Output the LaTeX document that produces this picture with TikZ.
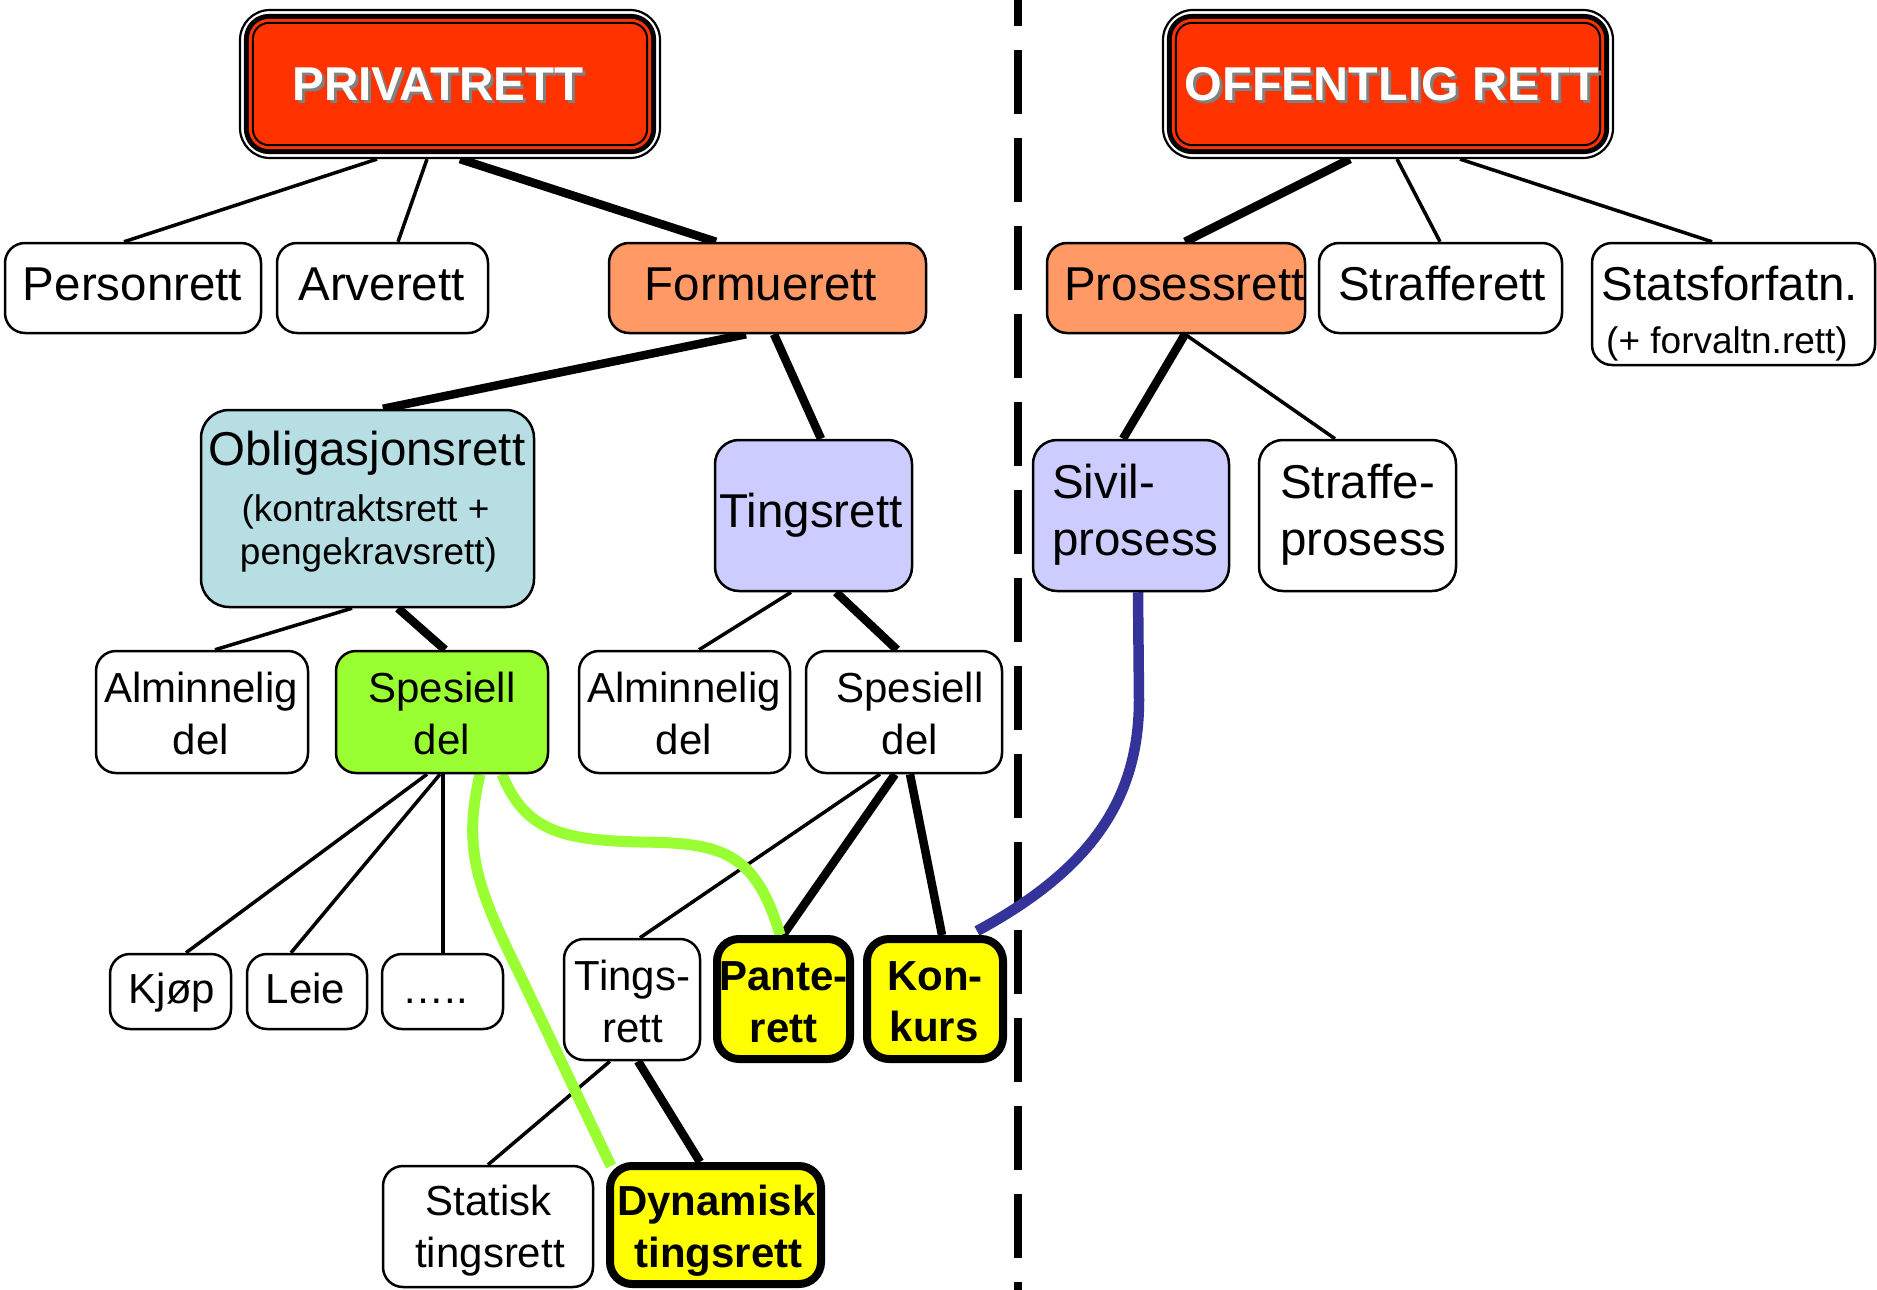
\documentclass[tikz,border=0pt]{standalone}
\usepackage{fontspec}
\setmainfont{Liberation Sans}
\usetikzlibrary{calc}
\pgfdeclarelayer{background}
\pgfsetlayers{background,main}
\definecolor{titlered}{HTML}{FF3300}
\definecolor{salmon}{HTML}{FF9966}
\definecolor{lblue}{HTML}{B7DEE2}
\definecolor{lav}{HTML}{CCCCFF}
\definecolor{lgreen}{HTML}{99FF33}
\definecolor{yel}{HTML}{FFFF00}
\definecolor{navy}{HTML}{333399}
\newcommand\fBig{\fontsize{47.5}{57}\selectfont}
\newcommand\fSmall{\fontsize{42}{50}\selectfont}
\newcommand\fSub{\fontsize{37}{44}\selectfont}
\newcommand\fTitle{\fontsize{47.5}{57}\selectfont\bfseries}
\begin{document}
\begin{tikzpicture}[x=1pt,y=-1pt,
  sz/.style 2 args={minimum width=#1pt, minimum height=#2pt},
  box/.style={draw=black, line width=2.5pt, rounded corners=20pt, inner sep=0pt, fill=white},
  bigbox/.style={box, rounded corners=28pt},
  ybox/.style={box, fill=yel, line width=8pt, rounded corners=22pt},
  frame/.style={draw=black, line width=2.2pt, fill=white, rounded corners=30pt, inner sep=0pt},
  ttl/.style={anchor=base, inner sep=0pt, font=\fTitle},
  lb/.style={anchor=base, inner sep=0pt, font=\fBig},
  lbw/.style={anchor=base west, inner sep=0pt, font=\fBig},
  ls/.style={anchor=base, inner sep=0pt, font=\fSmall},
  lsb/.style={anchor=base, inner sep=0pt, font=\fSmall\bfseries},
  lsub/.style={anchor=base, inner sep=0pt, font=\fSub},
  thin/.style={line width=3.5pt},
  thick/.style={line width=8.5pt},
  gline/.style={line width=11pt, draw=lgreen},
  bline/.style={line width=10.5pt, draw=navy}
]
\useasboundingbox (0,0) rectangle (1877,1290);

% ---------- title boxes ----------
\node[frame, sz={420}{148}] (priv) at (450,84) {};
\fill[black, rounded corners=25pt] ([shift={(5,5)}]priv.north west) rectangle ([shift={(-5,-5)}]priv.south east);
\fill[titlered, rounded corners=20pt] ([shift={(10,10)}]priv.north west) rectangle ([shift={(-10,-10)}]priv.south east);
\draw[black, line width=2pt, fill=titlered, rounded corners=16pt] ([shift={(14,14)}]priv.north west) rectangle ([shift={(-14,-14)}]priv.south east);
\coordinate (privtc) at (438,100);
\node[ttl, text=gray] (privsh) at ([shift={(3,3)}]privtc) {PRIVATRETT};
\node[ttl, text=white] (privt) at (privtc) {PRIVATRETT};

\node[frame, sz={450}{148}] (off) at (1388,84) {};
\fill[black, rounded corners=25pt] ([shift={(5,5)}]off.north west) rectangle ([shift={(-5,-5)}]off.south east);
\fill[titlered, rounded corners=20pt] ([shift={(10,10)}]off.north west) rectangle ([shift={(-10,-10)}]off.south east);
\draw[black, line width=2pt, fill=titlered, rounded corners=16pt] ([shift={(14,14)}]off.north west) rectangle ([shift={(-14,-14)}]off.south east);
\coordinate (offtc) at (1392,100);
\node[ttl, text=gray] (offsh) at ([shift={(3,3)}]offtc) {\scalebox{1.02}[1]{OFFENTLIG RETT}};
\node[ttl, text=white] (offt) at (offtc) {\scalebox{1.02}[1]{OFFENTLIG RETT}};

% ---------- boxes ----------
\node[box, sz={256}{90}] (pers) at (133,288) {};
\node[box, sz={211}{90}] (arv) at (382.5,288) {};
\node[box, fill=salmon, sz={317}{90}] (form) at (767.5,288) {};
\node[box, fill=salmon, sz={258}{90}] (pros) at (1176,288) {};
\node[box, sz={243}{90}] (straf) at (1440.5,288) {};
\node[box, sz={283}{122}] (stats) at (1733.5,304) {};

\node[bigbox, fill=lblue, sz={333}{197}] (oblig) at (367.5,508.5) {};
\node[box, rounded corners=24pt, fill=lav, sz={197}{151}] (ting) at (813.5,515.5) {};
\node[box, rounded corners=24pt, fill=lav, sz={196}{151}] (sivil) at (1131,515.5) {};
\node[box, rounded corners=24pt, sz={197}{151}] (straffe) at (1357.5,515.5) {};

\node[box, sz={212}{122}] (alm1) at (202,712) {};
\node[box, fill=lgreen, sz={212}{122}] (spes1) at (442,712) {};
\node[box, sz={211}{122}] (alm2) at (684.5,712) {};
\node[box, sz={196}{122}] (spes2) at (904,712) {};

\node[box, sz={121}{75}] (kjop) at (170.5,991.5) {};
\node[box, sz={120}{75}] (leie) at (307,991.5) {};
\node[box, sz={121}{75}] (dots) at (442.5,991.5) {};
\node[box, sz={136}{121}] (tings) at (632,999.5) {};
\node[ybox, sz={133}{120}] (pante) at (783.5,999) {};
\node[ybox, sz={136}{120}] (konk) at (935,999) {};

\node[box, sz={210}{121}] (stat) at (488,1226.5) {};
\node[ybox, sz={211}{118}] (dyn) at (715.5,1225) {};

% ---------- texts ----------
\node[lb] (tpers) at (132.5,300) {Personrett};
\node[lb] (tarv) at (381.5,300) {Arverett};
\node[lb] (tform) at (761,300) {Formuerett};
\node[lbw] (tpros) at (1064,300) {Prosessrett};
\node[lb] (tstraf) at (1442,300) {Strafferett};
\node[lb] (tstats) at (1730,300) {Statsforfatn.};
\node[lsub] (tstats2) at (1727,353) {(+ forvaltn.rett)};

\node[lb] (tob1) at (367,465) {Obligasjonsrett};
\node[lsub] (tob2) at (365.5,521) {(kontraktsrett +};
\node[lsub] (tob3) at (368.5,564) {pengekravsrett)};
\node[lb] (tting) at (811,527) {Tingsrett};
\node[lbw] (tsiv1) at (1052,498) {Sivil-};
\node[lbw] (tsiv2) at (1052,555) {prosess};
\node[lbw] (tstr1) at (1280,498) {Straffe-};
\node[lbw] (tstr2) at (1280,555) {prosess};

\node[ls] (ta1a) at (201,702) {Alminnelig};
\node[ls] (ta1b) at (201,754) {del};
\node[ls] (ts1a) at (442,702) {Spesiell};
\node[ls] (ts1b) at (442,754) {del};
\node[ls] (ta2a) at (684,702) {Alminnelig};
\node[ls] (ta2b) at (684,754) {del};
\node[ls] (ts2a) at (910,702) {Spesiell};
\node[ls] (ts2b) at (910,754) {del};

\node[ls] (tkjop) at (172,1003) {Kjøp};
\node[ls] (tleie) at (305.5,1003) {Leie};
\node[ls] (tdots) at (435,1003) {…..};
\node[ls] (ttg1) at (632.5,990) {Tings-};
\node[ls] (ttg2) at (632.5,1042) {rett};
\node[lsb] (tpa1) at (783.5,990) {Pante-};
\node[lsb] (tpa2) at (783.5,1042) {rett};
\node[lsb] (tko1) at (935,990) {Kon-};
\node[lsb] (tko2) at (934,1041) {kurs};
\node[ls] (tst1) at (488.5,1215) {Statisk};
\node[ls] (tst2) at (490,1267) {tingsrett};
\node[lsb] (tdy1) at (716.5,1215) {Dynamisk};
\node[lsb] (tdy2) at (718.5,1267) {tingsrett};

% ---------- connectors ----------
\begin{pgfonlayer}{background}
\draw[thin] ([xshift=-73pt]priv.south) -- ([xshift=-9pt]pers.north);
\draw[thin] ([xshift=-23pt]priv.south) -- ([xshift=15.5pt]arv.north);
\draw[thick] ([xshift=10pt]priv.south) -- ([xshift=-51.5pt]form.north);
\draw[thick] ([xshift=-38pt]off.south) -- ([xshift=9pt]pros.north);
\draw[thin] ([xshift=9pt]off.south) -- ([xshift=-0.5pt]straf.north);
\draw[thin] ([xshift=72pt]off.south) -- ([xshift=-21.5pt]stats.north);
\draw[thick] ([xshift=-21.5pt]form.south) -- ([xshift=15.5pt]oblig.north);
\draw[thick] ([xshift=6.5pt]form.south) -- ([xshift=7.5pt]ting.north);
\draw[thick] ([xshift=9pt]pros.south) -- ([xshift=-8pt]sivil.north);
\draw[thin] ([xshift=9pt]pros.south) -- ([xshift=-22.5pt]straffe.north);
\draw[thin] ([xshift=-15.5pt]oblig.south) -- ([xshift=13pt]alm1.north);
\draw[thick] ([xshift=30.5pt]oblig.south) -- ([xshift=3pt]spes1.north);
\draw[thin] ([xshift=-22.5pt]ting.south) -- ([xshift=14.5pt]alm2.north);
\draw[thick] ([xshift=22.5pt]ting.south) -- ([xshift=-7pt]spes2.north);
\draw[thin] ([xshift=-15pt]spes1.south) -- ([xshift=15.5pt]kjop.north);
\draw[thin] ([xshift=-2pt]spes1.south) -- ([xshift=-16pt]leie.north);
\draw[thin] ([xshift=1pt]spes1.south) -- ([xshift=0.5pt]dots.north);
\draw[thin] ([xshift=-24pt]spes2.south) -- ([xshift=8pt]tings.north);
\draw[thick] ([xshift=-9pt]spes2.south) -- ([xshift=-0.5pt]pante.north);
\draw[thick] ([xshift=6pt]spes2.south) -- ([xshift=7pt]konk.north);
\draw[thin] ([xshift=-22pt]tings.south) -- (stat.north);
\draw[thick] ([xshift=6pt]tings.south) -- ([xshift=-15.5pt]dyn.north);
% dashed divider
\coordinate (divtop) at (1018,0);
\coordinate (divbot) at (1018,1290);
\draw[line width=8pt, dash pattern=on 64pt off 24pt, dash phase=38pt] (divtop) -- (divbot);
% coloured curves
\draw[gline] ([xshift=60pt]spes1.south) .. controls (525,830) and (560,840) .. (640,842)
   .. controls (720,843) and (755,850) .. ([xshift=-3.5pt]pante.north);
\draw[gline] ([xshift=38pt]spes1.south) .. controls (462,850) and (478,890) .. (520,975)
   -- ([shift={(5,4)}]dyn.north west);
\draw[bline] ([xshift=7pt]sivil.south) -- (1139,700) .. controls (1139,800) and (1090,870)
   .. ([shift={(-30,-4)}]konk.north east);
\end{pgfonlayer}
\end{tikzpicture}
\end{document}
